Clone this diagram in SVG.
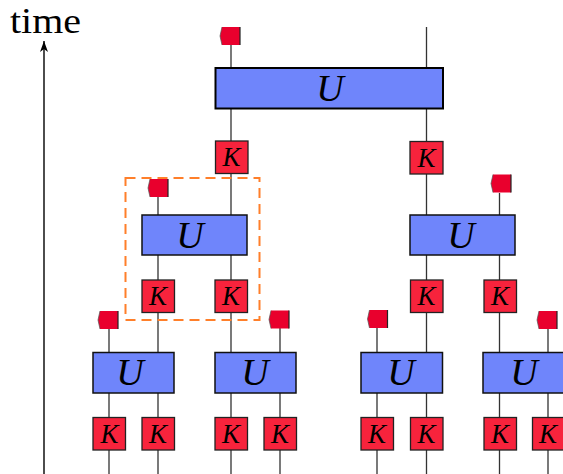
<svg xmlns="http://www.w3.org/2000/svg" xmlns:xlink="http://www.w3.org/1999/xlink" width="563" height="474" viewBox="0 0 563 474">
<style>
.w{stroke:#333;stroke-width:1.3;fill:none}
.u{fill:#6f85fb;stroke:#111;stroke-width:1.5}
.ut{fill:#6f85fb;stroke:#000;stroke-width:2}
.k{fill:#f7233c;stroke:#222;stroke-width:1.3}
.f{fill:#e9002d;stroke:none}
.fe{stroke:#222;stroke-width:1.2;fill:none}
.fl{stroke:#555;stroke-width:.7;fill:none}
.tu{font:italic 38px "Liberation Serif",serif;text-anchor:middle;fill:#000}
.tk{font:italic 27px "Liberation Serif",serif;text-anchor:middle;fill:#000}
.t{font:35px "Liberation Serif",serif;fill:#000}
</style>
<defs>
<marker id="a" markerWidth="12" markerHeight="10" refX="11" refY="5" orient="auto" markerUnits="userSpaceOnUse"><path d="M0 1L11 5L0 9L3 5Z" fill="#000"/></marker>
<g id="flag"><path class="f" d="M3 0H21V18H3L1 9Z"/><path class="fe" d="M21 0V18"/><path class="fl" d="M3 0L1 9L3 18"/></g>
</defs>
<g id="connectors">
<path class="w" d="M231 45V215M426.500 27V215M158 197V352M231 255V474M109 329V474M158 393V474M280 328V474M377 328V474M426.500 255V474M499.500 193V474M548 329V474"/>
<path d="M44 474V41" stroke="#000" stroke-width="1.400" fill="none" marker-end="url(#a)"/>
</g>
<g id="region"><rect x="125.500" y="178" width="134" height="142" fill="none" stroke="#ff7f2a" stroke-width="2" stroke-dasharray="10 6"/></g>
<g id="label-time"><text class="t" x="10" y="33" textLength="71" lengthAdjust="spacingAndGlyphs">time</text></g>
<g id="u1"><rect class="ut" x="215.500" y="68" width="227.500" height="40.500"/><text class="tu" x="330" y="101">U</text></g>
<g id="u2"><rect class="u" x="142" y="215" width="105" height="40"/><text class="tu" x="190" y="248">U</text></g>
<g id="u3"><rect class="u" x="410" y="215" width="105" height="40"/><text class="tu" x="461" y="248">U</text></g>
<g id="u4"><rect class="u" x="93" y="352.500" width="81" height="40.500"/><text class="tu" x="130" y="385">U</text></g>
<g id="u5"><rect class="u" x="215" y="352.500" width="81" height="40.500"/><text class="tu" x="255" y="385">U</text></g>
<g id="u6"><rect class="u" x="361" y="352.500" width="81.500" height="40.500"/><text class="tu" x="401" y="385">U</text></g>
<g id="u7"><rect class="u" x="483" y="352.500" width="81.500" height="40.500"/><text class="tu" x="524" y="385">U</text></g>
<g id="k1"><rect class="k" x="215.500" y="141" width="32.500" height="32.500"/><text class="tk" x="231.500" y="166">K</text></g>
<g id="k2"><rect class="k" x="410" y="141.500" width="33" height="32.500"/><text class="tk" x="426.500" y="167">K</text></g>
<g id="k3"><rect class="k" x="142" y="280" width="32.500" height="32.500"/><text class="tk" x="158" y="305">K</text></g>
<g id="k4"><rect class="k" x="215" y="280" width="32.500" height="32.500"/><text class="tk" x="231" y="305">K</text></g>
<g id="k5"><rect class="k" x="410.500" y="280" width="32.500" height="32.500"/><text class="tk" x="426.500" y="305">K</text></g>
<g id="k6"><rect class="k" x="484" y="280" width="32.500" height="32.500"/><text class="tk" x="500" y="305">K</text></g>
<g id="k7"><rect class="k" x="93" y="417.500" width="32.500" height="32.500"/><text class="tk" x="109.500" y="443">K</text></g>
<g id="k8"><rect class="k" x="142" y="417.500" width="32.500" height="32.500"/><text class="tk" x="158" y="443">K</text></g>
<g id="k9"><rect class="k" x="215" y="417.500" width="32.500" height="32.500"/><text class="tk" x="231" y="443">K</text></g>
<g id="k10"><rect class="k" x="264" y="417.500" width="32.500" height="32.500"/><text class="tk" x="280" y="443">K</text></g>
<g id="k11"><rect class="k" x="361" y="417.500" width="32.500" height="32.500"/><text class="tk" x="377" y="443">K</text></g>
<g id="k12"><rect class="k" x="410.500" y="417.500" width="32.500" height="32.500"/><text class="tk" x="426.500" y="443">K</text></g>
<g id="k13"><rect class="k" x="484" y="417.500" width="32.500" height="32.500"/><text class="tk" x="500" y="443">K</text></g>
<g id="k14"><rect class="k" x="532.500" y="417.500" width="32.500" height="32.500"/><text class="tk" x="548" y="443">K</text></g>
<g id="flag1"><use xlink:href="#flag" href="#flag" x="219" y="27"/></g>
<g id="flag2"><use xlink:href="#flag" href="#flag" x="147" y="179"/></g>
<g id="flag3"><use xlink:href="#flag" href="#flag" x="490" y="174.500"/></g>
<g id="flag4"><use xlink:href="#flag" href="#flag" x="97" y="311"/></g>
<g id="flag5"><use xlink:href="#flag" href="#flag" x="268" y="310.500"/></g>
<g id="flag6"><use xlink:href="#flag" href="#flag" x="366.500" y="310"/></g>
<g id="flag7"><use xlink:href="#flag" href="#flag" x="536" y="311"/></g>
</svg>
